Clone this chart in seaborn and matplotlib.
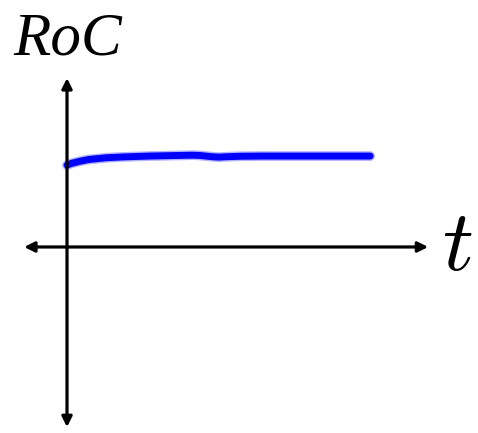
import numpy as np
import pandas as pd
import seaborn as sns
import matplotlib.pyplot as plt

sns.set_style("white")
plt.rcParams['mathtext.fontset'] = 'cm'
plt.rcParams['text.color'] = 'black'

# hand-drawn rate of change curve (t, RoC)
t_vals = [0.0, 0.1, 0.3, 0.5, 0.9, 1.3, 1.9, 2.4, 2.9, 3.05, 3.2, 3.35,
          3.5, 3.7, 4.0, 4.5, 5.0, 6.0, 7.0]
roc_vals = [1.89, 1.93, 1.98, 2.02, 2.06, 2.08, 2.10, 2.11, 2.12, 2.115,
            2.10, 2.085, 2.075, 2.085, 2.095, 2.10, 2.10, 2.10, 2.10]
curve = pd.DataFrame({"t": t_vals, "RoC": roc_vals})

# axis extents (arrow tips)
x_axis_ends = [-0.99, 8.34]
y_axis_ends = [-4.16, 3.90]

fig = plt.figure(figsize=(4.78, 4.33), dpi=100)
ax = fig.add_axes([0, 0, 1, 1])
ax.set_xlim(-1.547, 9.49)
ax.set_ylim(-4.296, 5.704)
ax.axis("off")

# axes with arrowheads at both ends
arrow = dict(arrowstyle="<|-|>", lw=2.3, color="black", mutation_scale=15,
             shrinkA=0, shrinkB=0)
ax.annotate("", xy=(x_axis_ends[1], 0), xytext=(x_axis_ends[0], 0), arrowprops=arrow)
ax.annotate("", xy=(0, y_axis_ends[1]), xytext=(0, y_axis_ends[0]), arrowprops=arrow)

# the curve, with a soft halo like a marker stroke
ax.plot(curve["t"], curve["RoC"], color="#0000ff", lw=7, alpha=0.3,
        solid_capstyle="round", solid_joinstyle="round")
sns.lineplot(data=curve, x="t", y="RoC", ax=ax, color="#0000ff", lw=5,
             solid_capstyle="round", solid_joinstyle="round", legend=False)

ax.text(0.02, 4.78, "RoC", family="Liberation Serif", style="italic",
        fontsize=44, ha="center", va="center", color="black")
ax.text(9.0, 0.0, "$t$", fontsize=62, ha="center", va="center", color="black")

plt.savefig("out.png", dpi=100)
